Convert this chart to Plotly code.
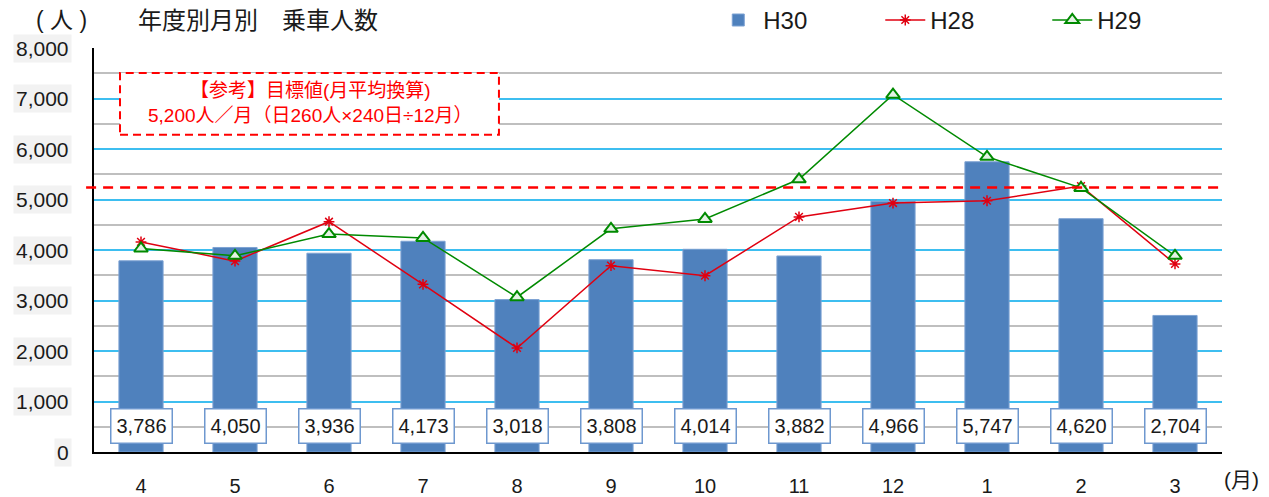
import plotly.graph_objects as go

months = ["4", "5", "6", "7", "8", "9", "10", "11", "12", "1", "2", "3"]
h30 = [3786, 4050, 3936, 4173, 3018, 3808, 4014, 3882, 4966, 5747, 4620, 2704]
h28 = [4160, 3780, 4560, 3320, 2060, 3690, 3490, 4655, 4930, 4975, 5265, 3725]
h29 = [4030, 3885, 4315, 4240, 3065, 4420, 4615, 5400, 7075, 5845, 5230, 3885]
target = 5240
y_ticks = [0, 1000, 2000, 3000, 4000, 5000, 6000, 7000, 8000]

FONT = "Liberation Sans, Arial, Noto Sans CJK JP, sans-serif"

fig = go.Figure()
fig.add_trace(go.Bar(
    x=months, y=h30, name="H30", width=0.47,
    marker=dict(color="#4F81BD", line=dict(color="#7DA2D3", width=1)),
))
fig.add_trace(go.Scatter(
    x=months, y=h28, name="H28", mode="lines+markers",
    line=dict(color="#E00010", width=1.5),
    marker=dict(symbol="asterisk-open", size=9, color="#E00010",
                line=dict(color="#E00010", width=1.5)),
))
fig.add_trace(go.Scatter(
    x=months, y=h29, name="H29", mode="lines+markers",
    line=dict(color="#008A00", width=1.5),
    marker=dict(symbol="triangle-up", size=12, color="#E4F2E4",
                line=dict(color="#008A00", width=2)),
))

annotations = []
# data labels (x given as category index)
for i, v in enumerate(h30):
    annotations.append(dict(
        x=i, y=516, xref="x", yref="y", text=f"{v:,}", showarrow=False,
        xanchor="center", yanchor="middle",
        font=dict(size=20, color="#1A1A1A", family=FONT),
        bgcolor="white", bordercolor="#6E98CF", borderwidth=1.5,
        width=58, height=31, borderpad=1,
    ))
# y tick labels with grey background
for v in y_ticks:
    annotations.append(dict(
        x=-0.0195, y=v, xref="paper", yref="y", xanchor="right", yanchor="middle",
        text=f"{v:,}", showarrow=False,
        font=dict(size=21, color="#1A1A1A", family=FONT),
        bgcolor="#F2F2F2", borderpad=2,
    ))
# titles
annotations.append(dict(x=-0.0284, y=1.069, xref="paper", yref="paper", text="( 人 )",
                        xanchor="center", yanchor="middle",
                        showarrow=False, font=dict(size=23, color="#1A1A1A", family=FONT)))
annotations.append(dict(x=0.0372, y=1.069, xref="paper", yref="paper", xanchor="left",
                        yanchor="middle",
                        text="年度別月別　乗車人数", showarrow=False,
                        font=dict(size=24, color="#1A1A1A", family=FONT)))
annotations.append(dict(x=1.0177, y=-0.069, xref="paper", yref="paper",
                        xanchor="center", yanchor="middle",
                        text="(月)", showarrow=False,
                        font=dict(size=21, color="#1A1A1A", family=FONT)))
# target box text
annotations.append(dict(x=0.1915, y=0.8936, xref="paper", yref="paper",
                        xanchor="center", yanchor="middle",
                        text="【参考】目標値(月平均換算)", showarrow=False,
                        font=dict(size=19, color="#FF0000", family=FONT)))
annotations.append(dict(x=0.1915, y=0.8317, xref="paper", yref="paper",
                        xanchor="center", yanchor="middle",
                        text="5,200人／月（日260人×240日÷12月）", showarrow=False,
                        font=dict(size=19, color="#FF0000", family=FONT)))

shapes = [
    dict(type="line", xref="paper", yref="y", x0=-0.007, x1=1.0, y0=target, y1=target,
         line=dict(color="#FF0000", width=2.5, dash="10px,7px")),
    dict(type="rect", xref="paper", yref="paper", x0=0.02305, x1=0.359, y0=0.785, y1=0.938,
         fillcolor="white", line=dict(color="#FF0000", width=2, dash="8px,5px")),
]

# page body has an 8px margin, so the figure is sized to fit inside the window
fig.update_layout(
    width=1261, height=489,
    margin=dict(l=86, r=47, t=40, b=45, autoexpand=False),
    paper_bgcolor="white", plot_bgcolor="white",
    font=dict(family=FONT, color="#1A1A1A"),
    showlegend=True,
    legend=dict(orientation="h", x=0.549, y=1.124, xanchor="left", yanchor="top",
                font=dict(size=24, family=FONT, color="#1A1A1A"),
                itemwidth=40, entrywidth=112, bgcolor="rgba(0,0,0,0)"),
    annotations=annotations,
    shapes=shapes,
)
fig.update_xaxes(
    type="category", range=[-0.5, 11.5], showline=True, linecolor="black", linewidth=2,
    showgrid=False, ticks="", tickfont=dict(size=20, family=FONT, color="#1A1A1A"),
    ticklabelstandoff=15,
)
fig.update_yaxes(
    range=[0, 8000], dtick=1000, showticklabels=False, showline=True,
    linecolor="black", linewidth=2, zeroline=False,
    showgrid=True, gridcolor="#3DBEF0", gridwidth=1.5,
    minor=dict(dtick=500, showgrid=True, gridcolor="#BFBFBF", gridwidth=1.5),
)

fig.write_html("out.html")
